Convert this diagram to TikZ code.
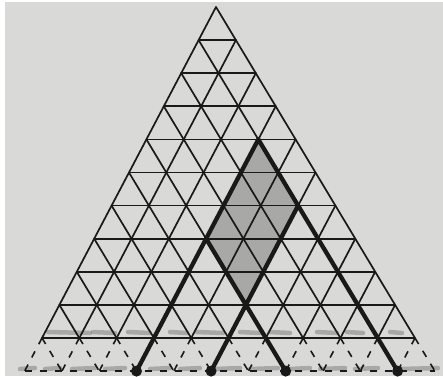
\documentclass[tikz,border=0pt]{standalone}
\begin{document}
\begin{tikzpicture}[x=1pt,y=-1pt]
\definecolor{paper}{RGB}{217,217,215}
\definecolor{inkc}{RGB}{25,25,25}
\definecolor{shadec}{RGB}{168,168,166}
\definecolor{smudgec}{RGB}{110,110,108}
\tikzset{
  thinline/.style={draw=inkc,line width=1.7pt,line cap=round},
  dashline/.style={draw=inkc,line width=1.6pt,dash pattern=on 7pt off 8pt},
  thickline/.style={draw=inkc,line width=4.3pt,line cap=round,line join=round},
  smudge/.style={draw=smudgec,line width=4.5pt,opacity=0.45,line cap=round},
  dotfill/.style={fill=inkc},
  shadefill/.style={fill=shadec}
}
\fill[white] (0,0) rectangle (443,376);
\fill[paper] (5,2) rectangle (443,376);
\useasboundingbox (0,0) rectangle (443,376);
% lattice points
\foreach \r in {0,...,11}{
  \foreach \k in {0,...,\r}{
    \coordinate (p\r-\k) at ({216-17.4*\r+37.3*\k},{7+33.1*\r});
  }
}
% smudges
\foreach \a/\b in {48/90,93/115,128/150,170/187,197/223,240/260,270/290,317/337,347/363,390/402}{
  \draw[smudge] (\a,332) -- (\b,333);
}
\foreach \a/\b in {20/35,45/60,72/95,105/125,150/170,180/200,215/240,250/278,290/310,320/345,355/378,400/438}{
  \draw[smudge] (\a,369) -- (\b,368);
}
% shaded parallelogram
\fill[shadefill] (p4-3) -- (p6-5) -- (p9-5) -- (p7-3) -- cycle;
% thin grid
\foreach \r in {1,...,10}{ \draw[thinline] (p\r-0) -- (p\r-\r); }
\foreach \k in {0,...,9}{ \draw[thinline] (p\k-\k) -- (p10-\k); }
\foreach \d in {0,...,9}{
  \pgfmathtruncatemacro\e{10-\d}
  \draw[thinline] (p\d-0) -- (p10-\e);
}
% dashed extension
\draw[dashline] (p11-0) -- (p11-11);
\foreach \k in {0,...,10}{
  \pgfmathtruncatemacro\j{\k+1}
  \draw[dashline] (p10-\k) -- (p11-\k);
  \draw[dashline] (p10-\k) -- (p11-\j);
}
% thick lines
\draw[thickline] (p11-3) -- (p4-3) -- (p11-10);
\draw[thickline] (p11-5) -- (p6-5);
\draw[thickline] (p11-7) -- (p7-3);
% dots
\foreach \k in {3,5,7,10}{ \fill[dotfill] (p11-\k) circle (5.5); }
\end{tikzpicture}
\end{document}
